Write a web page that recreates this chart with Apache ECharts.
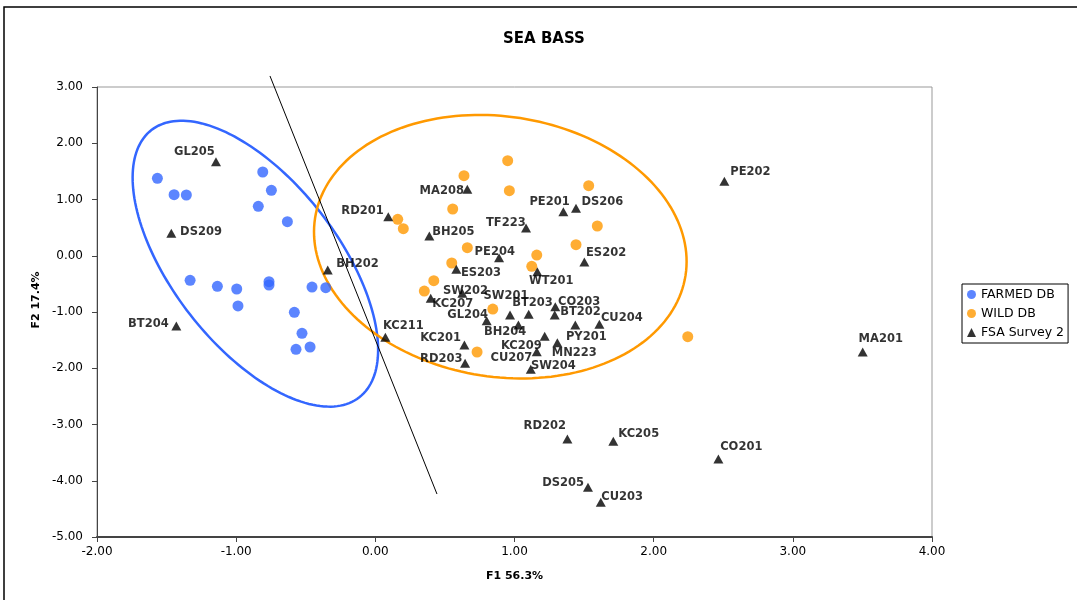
<!DOCTYPE html>
<html>
<head>
<meta charset="utf-8">
<script src="https://cdn.jsdelivr.net/npm/echarts@6/dist/echarts.min.js"></script>
<style>html,body{margin:0;padding:0;background:#fff;}#chart{width:1077px;height:600px;}</style>
</head>
<body>
<div id="chart"></div>
<script>
// ---- data ----
const xTicks = [-2, -1, 0, 1, 2, 3, 4];
const yTicks = [-5, -4, -3, -2, -1, 0, 1, 2, 3];

const farmedF1 = [-1.566,-1.446,-1.358,-0.809,-0.747,-0.841,-0.632,-1.331,-1.135,-0.996,-0.987,-0.764,-0.764,-0.455,-0.356,-0.582,-0.527,-0.570,-0.469];
const farmedF2 = [1.377,1.085,1.080,1.489,1.164,0.879,0.605,-0.436,-0.543,-0.591,-0.893,-0.461,-0.520,-0.556,-0.568,-1.005,-1.379,-1.663,-1.622];

const wildF1 = [0.161,0.201,0.637,0.951,0.963,0.556,1.533,1.595,0.661,0.549,0.420,0.352,1.160,1.124,1.442,0.844,0.731,2.245];
const wildF2 = [0.648,0.481,1.423,1.690,1.156,0.831,1.245,0.529,0.143,-0.129,-0.444,-0.627,0.013,-0.188,0.196,-0.947,-1.711,-1.439];

const fsaNames = ['GL205','DS209','BH202','BT204','RD201','KC211','MA208','BH205','TF223','PE201','DS206','PE204','ES202','ES203','WT201','SW202','KC207','SW201','BT203','CO203','BT202','GL204','BH204','PY201','CU204','KC209','MN223','CU207','SW204','KC201','RD203','RD202','KC205','CO201','DS205','CU203','PE202','MA201'];
const fsaF1 = [-1.145,-1.466,-0.342,-1.430,0.093,0.072,0.661,0.388,1.083,1.351,1.442,0.889,1.502,0.582,1.164,0.625,0.398,0.968,1.102,1.293,1.289,0.800,1.028,1.437,1.610,1.217,1.308,1.160,1.117,0.640,0.645,1.380,1.710,2.465,1.528,1.620,2.508,3.502];
const fsaF2 = [1.672,0.399,-0.253,-1.249,0.694,-1.450,1.181,0.351,0.493,0.783,0.844,-0.035,-0.111,-0.241,-0.284,-0.668,-0.756,-1.053,-1.041,-0.906,-1.053,-1.155,-1.231,-1.231,-1.219,-1.432,-1.546,-1.706,-2.019,-1.587,-1.912,-3.258,-3.299,-3.613,-4.116,-4.383,1.324,-1.711];

// separating line (data coordinates of its two ends)
const lineF1 = [-0.757, 0.443];
const lineF2 = [3.196, -4.236];

// group ellipses: centre, semi-major and semi-minor axis vectors (data units)
const farmedEllipse = [-0.862, -0.141, 0.747, -2.375, 0.469, 0.905];
const wildEllipse = [0.898, 0.161, 1.331, -0.510, 0.143, 2.286];

// ---- label placement (pixel offsets of label centre from marker centre) ----
const labelOffsets = {
  GL205:[-21.5,-10], DS209:[29.7,-1.6], BH202:[29.8,-5.7], BT204:[-28,-1.7], RD201:[-25.8,-6],
  KC211:[18,-11.6], MA208:[-25.6,1.7], BH205:[24,-4], TF223:[-20.2,-4.7], PE201:[-13.8,-9.7],
  DS206:[26.3,-6.3], PE204:[-4.3,-5.4], ES202:[21.7,-9.3], ES203:[24.7,4], WT201:[14,9],
  SW202:[3.2,-2.6], KC207:[22,5.7], SW201:[-4,-19.3], BT203:[3.8,-11.3], CO203:[23.9,-5],
  BT202:[25.8,-3.3], GL204:[-19,-5.7], BH204:[-13.3,6.7], PY201:[11,11.7], CU204:[22.4,-6],
  KC209:[-23.4,9.7], MN223:[16.9,10], CU207:[-25.4,6.3], SW204:[22.6,-3.6], KC201:[-23.8,-6.7],
  RD203:[-23.8,-4], RD202:[-22.6,-13.3], KC205:[25.4,-7], CO201:[22.9,-12.3], DS205:[-24.8,-4],
  CU203:[21.3,-5.6], PE202:[26,-9], MA201:[18.1,-13.3]
};

const zip = (a, b) => a.map((v, i) => [v, b[i]]);

const fsaData = fsaNames.map((n, i) => ({ name: n, value: [fsaF1[i], fsaF2[i]] }));

function ellipseRender(color) {
  return function (params, api) {
    const cx = api.value(0), cy = api.value(1);
    const ux = api.value(2), uy = api.value(3);
    const vx = api.value(4), vy = api.value(5);
    const pts = [];
    for (let k = 0; k < 180; k++) {
      const t = k / 180 * Math.PI * 2;
      pts.push(api.coord([cx + ux * Math.cos(t) + vx * Math.sin(t), cy + uy * Math.cos(t) + vy * Math.sin(t)]));
    }
    return {
      type: 'polygon',
      shape: { points: pts },
      style: { fill: 'none', stroke: color, lineWidth: 2.5 },
      silent: true
    };
  };
}

const FONT = 'DejaVu Sans';
const chart = echarts.init(document.getElementById('chart'), null, { renderer: 'canvas' });

chart.setOption({
  backgroundColor: '#fff',
  animation: false,
  title: {
    text: 'SEA BASS',
    left: 503, top: 32, padding: 0,
    textStyle: { fontFamily: FONT, fontWeight: 'bold', fontSize: 15, color: '#000' }
  },
  graphic: [
    { type: 'rect', z: -10, shape: { x: 4, y: 7, width: 1200, height: 700 }, style: { fill: 'none', stroke: '#000', lineWidth: 1.5 }, silent: true },
    { type: 'text', x: 36, y: 300, rotation: Math.PI / 2,
      style: { text: 'F2 17.4%', fontFamily: FONT, fontWeight: 'bold', fontSize: 11, fill: '#000', align: 'center', verticalAlign: 'middle' } }
  ],
  legend: {
    orient: 'vertical',
    left: 962, top: 284,
    data: ['FARMED DB', 'WILD DB', 'FSA Survey 2'],
    itemWidth: 9, itemHeight: 9, itemGap: 6,
    padding: [4, 4, 4, 5],
    borderColor: '#000', borderWidth: 1,
    textStyle: { fontFamily: FONT, fontSize: 12.5, color: '#000' }
  },
  grid: { left: 97, right: 145, top: 87, bottom: 63, show: true, borderColor: '#999', borderWidth: 1, backgroundColor: '#fff' },
  xAxis: {
    type: 'value', min: xTicks[0], max: xTicks[xTicks.length - 1], interval: 1,
    name: 'F1 56.3%', nameLocation: 'middle', nameGap: 34,
    nameTextStyle: { fontFamily: FONT, fontWeight: 'bold', fontSize: 11, color: '#000' },
    axisLine: { onZero: false, lineStyle: { color: '#444', width: 2 } },
    axisTick: { show: true, length: 5, lineStyle: { color: '#444' } },
    axisLabel: { margin: 9, fontFamily: FONT, fontSize: 12, color: '#000', formatter: v => v.toFixed(2) },
    splitLine: { show: false }
  },
  yAxis: {
    type: 'value', min: yTicks[0], max: yTicks[yTicks.length - 1], interval: 1,
    axisLine: { show: true, onZero: false, lineStyle: { color: '#444', width: 1 } },
    axisTick: { show: true, length: 5, lineStyle: { color: '#444' } },
    axisLabel: { margin: 14, fontFamily: FONT, fontSize: 12, color: '#000', formatter: v => v.toFixed(2) },
    splitLine: { show: false }
  },
  series: [
    { type: 'custom', name: 'farmedEllipse', renderItem: ellipseRender('#3366ff'), data: [farmedEllipse], encode: { x: 0, y: 1 }, clip: false, silent: true, z: 1 },
    { type: 'custom', name: 'wildEllipse', renderItem: ellipseRender('#ff9900'), data: [wildEllipse], encode: { x: 0, y: 1 }, clip: false, silent: true, z: 1 },
    { type: 'line', name: 'divider', data: zip(lineF1, lineF2), symbol: 'none', clip: false, silent: true,
      lineStyle: { color: '#000', width: 1 }, z: 2 },
    { type: 'scatter', name: 'FARMED DB', data: zip(farmedF1, farmedF2), symbol: 'circle', symbolSize: 11,
      itemStyle: { color: '#3366ff' }, z: 3 },
    { type: 'scatter', name: 'WILD DB', data: zip(wildF1, wildF2), symbol: 'circle', symbolSize: 11,
      itemStyle: { color: '#ff9900' }, z: 3 },
    { type: 'scatter', name: 'FSA Survey 2', data: fsaData, symbol: 'triangle', symbolSize: [10, 9],
      itemStyle: { color: '#000' }, z: 4,
      label: { show: true, position: 'inside', align: 'center', verticalAlign: 'middle', formatter: '{b}',
        fontFamily: FONT, fontWeight: 'bold', fontSize: 11.5, color: '#000' },
      labelLayout: function (p) {
        const o = labelOffsets[fsaNames[p.dataIndex]] || [0, 0];
        return { dx: o[0], dy: o[1], hideOverlap: false };
      } }
  ]
});
</script>
</body>
</html>
